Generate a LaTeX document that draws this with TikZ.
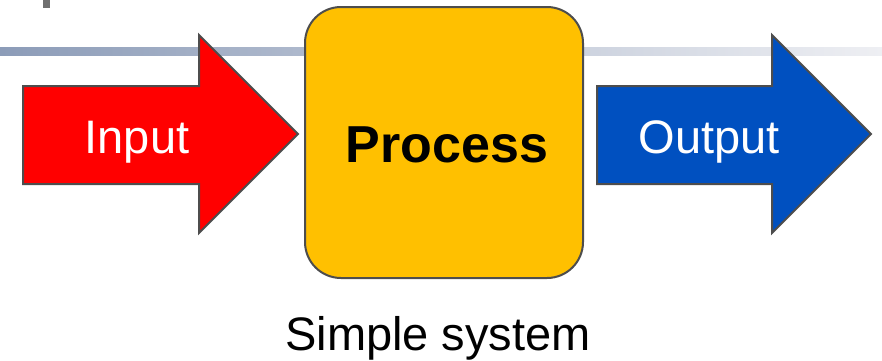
\documentclass[tikz,border=0pt]{standalone}
\usepackage{fontspec}
\setmainfont{Liberation Sans}
\definecolor{barL}{RGB}{140,156,184}
\definecolor{barR}{RGB}{238,239,243}
\definecolor{edgegray}{RGB}{77,77,77}
\definecolor{procfill}{RGB}{255,192,0}
\definecolor{outblue}{RGB}{0,80,192}
\definecolor{tickgray}{RGB}{112,112,112}
\tikzset{
  shapeline/.style={draw=edgegray, line width=2pt, line join=miter},
  lbl/.style={inner sep=0pt, anchor=base},
}
\begin{document}
\begin{tikzpicture}[x=1pt,y=-1pt]
\useasboundingbox (0,0) rectangle (882,360);
% top decorations
\fill[tickgray] (43,0) rectangle (50,8);
\shade[left color=barL, right color=barR] (0,47) rectangle (882,55);
% input arrow
\path[shapeline, fill=red] (23,86) -- (199,86) -- (199,35) -- (298,134) -- (199,233) -- (199,184) -- (23,184) -- cycle;
% output arrow
\path[shapeline, fill=outblue] (597,86) -- (772,86) -- (772,35) -- (871,134) -- (772,233) -- (772,184) -- (597,184) -- cycle;
% process box
\node[shapeline, fill=procfill, rounded corners=36pt, minimum width=278pt, minimum height=271pt, inner sep=0pt] (proc) at (444,142.5) {};
% labels
\node[lbl, text=white, font=\fontsize{47}{50}\selectfont] (in) at (137,153) {Input};
\node[lbl, text=white, font=\fontsize{47}{50}\selectfont] (out) at (709,153) {Output};
\node[lbl, font=\bfseries\fontsize{52}{56}\selectfont] (ptext) at (447,162) {Process};
\node[lbl, font=\fontsize{47}{50}\selectfont] (cap) at (438,350) {Simple system};
\end{tikzpicture}
\end{document}
